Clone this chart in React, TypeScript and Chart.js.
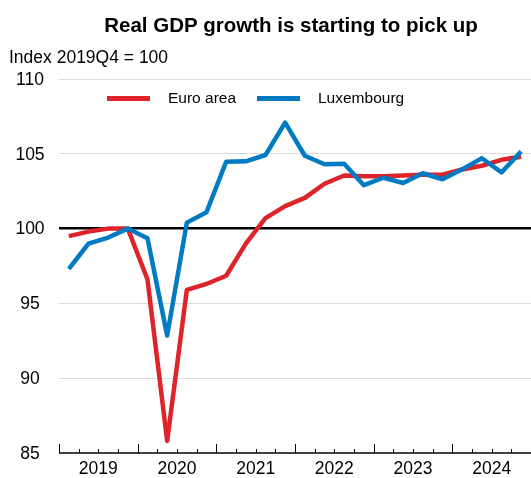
import React, { useEffect, useRef } from "react";
import { Chart, registerables } from "chart.js";

Chart.register(...registerables);

const chartTitle = "Real GDP growth is starting to pick up";
const yAxisTitle = "Index 2019Q4 = 100";
const quarters = [
  "2019Q1", "2019Q2", "2019Q3", "2019Q4",
  "2020Q1", "2020Q2", "2020Q3", "2020Q4",
  "2021Q1", "2021Q2", "2021Q3", "2021Q4",
  "2022Q1", "2022Q2", "2022Q3", "2022Q4",
  "2023Q1", "2023Q2", "2023Q3", "2023Q4",
  "2024Q1", "2024Q2", "2024Q3", "2024Q4",
];
const yearLabels = ["2019", "2020", "2021", "2022", "2023", "2024"];
const yTickValues = [85, 90, 95, 100, 105, 110];
const euroArea = [
  99.5, 99.8, 100.0, 100.0,
  96.6, 85.8, 95.9, 96.3,
  96.85, 99.0, 100.7, 101.5,
  102.05, 103.0, 103.55, 103.5,
  103.5, 103.55, 103.6, 103.6,
  103.95, 104.2, 104.6, 104.8,
];
const luxembourg = [
  97.3, 99.0, 99.4, 100.0,
  99.35, 92.85, 100.4, 101.1,
  104.47, 104.5, 104.92, 107.08,
  104.87, 104.3, 104.33, 102.9,
  103.4, 103.05, 103.7, 103.3,
  103.96, 104.7, 103.76, 105.15,
];
const seriesNames = ["Euro area", "Luxembourg"];

const RED = "rgb(222,36,42)";
const BLUE = "rgb(0,122,194)";
const FONT = "'Liberation Sans', Arial, sans-serif";

const overlay = {
  id: "overlay",
  afterDraw(chart: any) {
    const ctx = chart.ctx as CanvasRenderingContext2D;
    const xs = chart.scales.x;
    const ys = chart.scales.y;
    const area = chart.chartArea;
    ctx.save();
    ctx.fillStyle = "#000";

    // title
    ctx.font = `bold 20.5px ${FONT}`;
    ctx.textAlign = "center";
    ctx.textBaseline = "alphabetic";
    ctx.fillText(chartTitle, 291, 32);

    // y axis title
    ctx.font = `17.5px ${FONT}`;
    ctx.textAlign = "left";
    ctx.fillText(yAxisTitle, 9, 63);

    // y tick labels
    ctx.textAlign = "center";
    ctx.textBaseline = "middle";
    yTickValues.forEach((v) => {
      ctx.fillText(String(v), 30, ys.getPixelForValue(v) + 1);
    });

    // x axis line
    ctx.strokeStyle = "#000";
    ctx.lineWidth = 1.5;
    ctx.beginPath();
    ctx.moveTo(area.left, area.bottom);
    ctx.lineTo(area.right, area.bottom);
    ctx.stroke();

    // tick marks at quarter boundaries
    ctx.lineWidth = 1;
    for (let i = 0; i <= quarters.length; i++) {
      const px = Math.round(xs.getPixelForValue(i)) + 0.5;
      const len = i % 4 === 0 ? 9 : 4;
      ctx.beginPath();
      ctx.moveTo(px, area.bottom);
      ctx.lineTo(px, area.bottom - len);
      ctx.stroke();
    }

    // year labels
    ctx.font = `17.5px ${FONT}`;
    ctx.textAlign = "center";
    ctx.textBaseline = "alphabetic";
    yearLabels.forEach((yr, k) => {
      ctx.fillText(yr, xs.getPixelForValue(k * 4 + 2), 474);
    });

    // legend
    const legendItems = [
      { name: seriesNames[0], color: RED, x0: 107, x1: 150, tx: 168 },
      { name: seriesNames[1], color: BLUE, x0: 257, x1: 300, tx: 318 },
    ];
    ctx.font = `15.5px ${FONT}`;
    ctx.textAlign = "left";
    ctx.textBaseline = "middle";
    legendItems.forEach((it) => {
      ctx.strokeStyle = it.color;
      ctx.lineWidth = 5;
      ctx.lineCap = "butt";
      ctx.beginPath();
      ctx.moveTo(it.x0, 98.5);
      ctx.lineTo(it.x1, 98.5);
      ctx.stroke();
      ctx.fillStyle = "#000";
      ctx.fillText(it.name, it.tx, 99);
    });
    ctx.restore();
  },
};

export default function App() {
  const ref = useRef<HTMLCanvasElement | null>(null);
  useEffect(() => {
    document.body.style.margin = "0";
    const canvas = ref.current;
    if (!canvas) return;
    const chart = new Chart(canvas, {
      type: "line",
      data: {
        datasets: [
          {
            label: seriesNames[0],
            data: euroArea.map((v, i) => ({ x: i + 0.5, y: v })),
            borderColor: RED,
            borderWidth: 4.5,
            borderJoinStyle: "round",
            borderCapStyle: "butt",
            pointRadius: 0,
            tension: 0,
            fill: false,
            order: 1,
          },
          {
            label: seriesNames[1],
            data: luxembourg.map((v, i) => ({ x: i + 0.5, y: v })),
            borderColor: BLUE,
            borderWidth: 4.5,
            borderJoinStyle: "round",
            borderCapStyle: "butt",
            pointRadius: 0,
            tension: 0,
            fill: false,
            order: 0,
          },
        ],
      },
      plugins: [overlay],
      options: {
        responsive: false,
        animation: false,
        devicePixelRatio: 1,
        layout: { padding: { top: 79, left: 0, right: 0, bottom: 0 } },
        plugins: {
          legend: { display: false },
          tooltip: { enabled: false },
          title: { display: false },
        },
        scales: {
          x: {
            type: "linear",
            min: 0,
            max: quarters.length,
            grid: { display: false },
            border: { display: false },
            ticks: { display: false },
            afterFit: (s: any) => {
              s.height = 25;
            },
          },
          y: {
            type: "linear",
            min: 85,
            max: 110,
            ticks: { display: false, stepSize: 5 },
            border: { display: false },
            grid: {
              drawTicks: false,
              color: (c: any) =>
                c.tick && c.tick.value === 100
                  ? "#000"
                  : c.tick && c.tick.value === 85
                  ? "rgba(0,0,0,0)"
                  : "#dcdcdc",
              lineWidth: (c: any) => (c.tick && c.tick.value === 100 ? 2.5 : 1),
            },
            afterFit: (s: any) => {
              s.width = 59;
            },
          },
        },
      },
    } as any);
    return () => chart.destroy();
  }, []);
  return (
    <div style={{ position: "fixed", left: 0, top: 0, width: 531, height: 478, overflow: "hidden", background: "#fff" }}>
      <canvas ref={ref} width={531} height={478} style={{ display: "block" }} />
    </div>
  );
}
